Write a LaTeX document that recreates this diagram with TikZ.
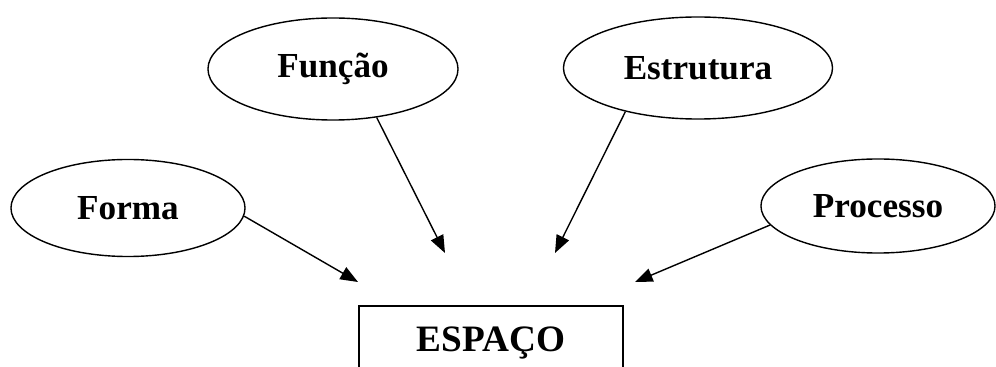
\documentclass[tikz,border=0pt]{standalone}
\usepackage{fontspec}
\setmainfont{Liberation Serif}
\usetikzlibrary{arrows.meta,shapes.geometric}

\tikzset{
  conceito/.style={ellipse, draw, line width=1pt, inner sep=0pt,
    font=\fontsize{25}{30}\selectfont\bfseries},
  seta/.style={line width=1pt, -{Triangle[length=4.4mm,width=3.4mm]}}
}

\begin{document}
\begin{tikzpicture}[x=0.025cm, y=-0.025cm]
\useasboundingbox (0,0) rectangle (996,367);
\node[conceito, minimum width=5.85cm, minimum height=2.425cm] (forma) at (128,208) {Forma};
\node[conceito, minimum width=6.25cm, minimum height=2.55cm] (funcao) at (333,69) {Função};
\node[conceito, minimum width=6.725cm, minimum height=2.55cm] (estrutura) at (698,68) {Estrutura};
\node[conceito, minimum width=5.85cm, minimum height=2.35cm] (processo) at (878,206) {Processo};
\node[draw, line width=1pt, minimum width=6.6cm, minimum height=1.85cm,
  font=\fontsize{26.5}{32}\selectfont\bfseries] (espaco) at (491,343) {ESPAÇO};
\coordinate (pForma) at (358,282);
\coordinate (pFuncao) at (445,253);
\coordinate (pEstrutura) at (555,253);
\coordinate (pProcesso) at (635,282);
\draw[seta] (forma.-4) -- (pForma);
\draw[seta] (funcao.-48.6) -- (pFuncao);
\draw[seta] (estrutura.211) -- (pEstrutura);
\draw[seta] (processo.190.5) -- (pProcesso);
\end{tikzpicture}
\end{document}
